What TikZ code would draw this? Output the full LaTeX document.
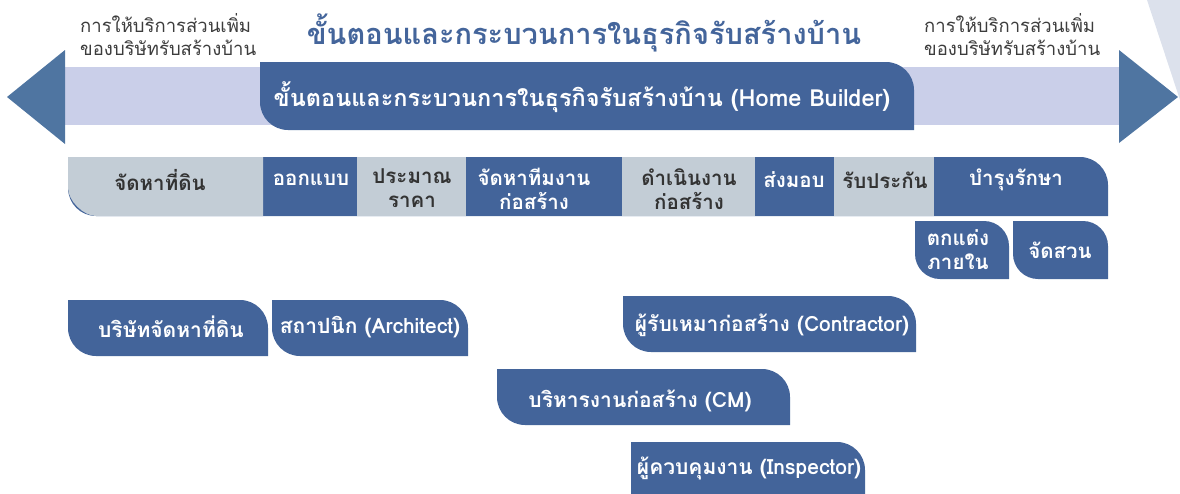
\documentclass[tikz,border=0pt]{standalone}
\usepackage{fontspec}
\newfontfamily\thai[Script=Thai]{Loma}
\definecolor{boxblue}{HTML}{43649A}
\definecolor{boxgrey}{HTML}{C3CDD6}
\definecolor{bandc}{HTML}{CACFE9}
\definecolor{arrowc}{HTML}{4F75A1}
\definecolor{cornerc}{HTML}{DCE1EC}
\definecolor{titlec}{HTML}{44659B}
\definecolor{sidec}{HTML}{3C3C3C}
\definecolor{darktext}{HTML}{333333}
\newcommand\leafshape[6]{%
  \fill[#1] (#2,#3) -- ({#4-#6},#3) .. controls ({#4-0.448*#6},#3) and (#4,{#3+0.448*#6}) .. (#4,{#3+#6})
    -- (#4,#5) -- ({#2+#6},#5) .. controls ({#2+0.448*#6},#5) and (#2,{#5-0.448*#6}) .. (#2,{#5-#6}) -- cycle;}
\tikzset{
  sidetext/.style={text=sidec, font=\thai\fontsize{18.5}{23}\selectfont, align=left, inner sep=0pt},
  steptext/.style={font=\thai\bfseries\fontsize{20.5}{24}\selectfont, align=center, inner sep=0pt},
  onblue/.style={steptext, text=white},
  ongrey/.style={steptext, text=darktext},
  roletext/.style={font=\thai\bfseries\fontsize{21}{24}\selectfont, text=white, inner sep=0pt}
}
\begin{document}
\begin{tikzpicture}[x=1pt,y=-1pt]
\useasboundingbox (0,0) rectangle (1180,493);
% background decorations
\fill[cornerc] (1147,0) -- (1180,0) -- (1180,100) -- cycle;
\fill[bandc] (65,67) rectangle (1120,125);
\fill[arrowc] (65,50) -- (7,97) -- (65,144) -- cycle;
\fill[arrowc] (1119,50) -- (1178,97) -- (1119,143) -- cycle;
% titles
\node[text=titlec, font=\thai\bfseries\fontsize{29}{34}\selectfont, inner sep=0pt] (title) at (584,33) {ขั้นตอนและกระบวนการในธุรกิจรับสร้างบ้าน};
\node[sidetext, anchor=west] (sideL) at (80,35) {การให้บริการส่วนเพิ่ม\\ของบริษัทรับสร้างบ้าน};
\node[sidetext, anchor=west] (sideR) at (924,35) {การให้บริการส่วนเพิ่ม\\ของบริษัทรับสร้างบ้าน};
\leafshape{boxblue}{260}{62}{914}{130}{28}
\node[font=\thai\bfseries\fontsize{23.5}{28}\selectfont, text=white, inner sep=0pt] (hb) at (582,97) {ขั้นตอนและกระบวนการในธุรกิจรับสร้างบ้าน (Home Builder)};
% row 1
\leafshape{boxblue}{68}{157}{1108}{216}{28}
\fill[boxgrey] (68,157) -- (263,157) -- (263,216) -- (96,216) .. controls (83.5,216) and (68,200.5) .. (68,188) -- cycle;
\fill[boxgrey] (357,157) rectangle (466,216);
\fill[boxgrey] (622,157) rectangle (755,216);
\fill[boxgrey] (834,157) rectangle (934,216);
\node[ongrey] (s1) at (160,180) {จัดหาที่ดิน};
\node[onblue] (s2) at (311,180) {ออกแบบ};
\node[ongrey, anchor=north] (s3) at (412,168) {ประมาณ\\ราคา};
\node[onblue, anchor=north] (s4) at (534,168) {จัดหาทีมงาน\\ก่อสร้าง};
\node[ongrey, anchor=north] (s5) at (689,168) {ดำเนินงาน\\ก่อสร้าง};
\node[onblue] (s6) at (794,180) {ส่งมอบ};
\node[ongrey] (s7) at (885,180) {รับประกัน};
\node[onblue] (s8) at (1016,180) {บำรุงรักษา};
% row 2
\leafshape{boxblue}{915}{221}{1009}{279}{25}
\leafshape{boxblue}{1013}{221}{1108}{279}{25}
\node[onblue, anchor=north] (m1) at (958,229) {ตกแต่ง\\ภายใน};
\node[onblue] (m2) at (1060,250) {จัดสวน};
% roles
\leafshape{boxblue}{68}{300}{268}{356}{28}
\leafshape{boxblue}{272}{300}{468}{356}{28}
\leafshape{boxblue}{623}{296}{916}{352}{28}
\leafshape{boxblue}{497}{369}{790}{425}{28}
\leafshape{boxblue}{631}{442}{865}{520}{28}
\node[roletext] (p1) at (171,327) {บริษัทจัดหาที่ดิน};
\node[roletext] (p2) at (370,327) {สถาปนิก (Architect)};
\node[roletext] (p3) at (772,325) {ผู้รับเหมาก่อสร้าง (Contractor)};
\node[roletext] (p4) at (640,401) {บริหารงานก่อสร้าง (CM)};
\node[roletext] (p5) at (749,468) {ผู้ควบคุมงาน (Inspector)};
\end{tikzpicture}
\end{document}
